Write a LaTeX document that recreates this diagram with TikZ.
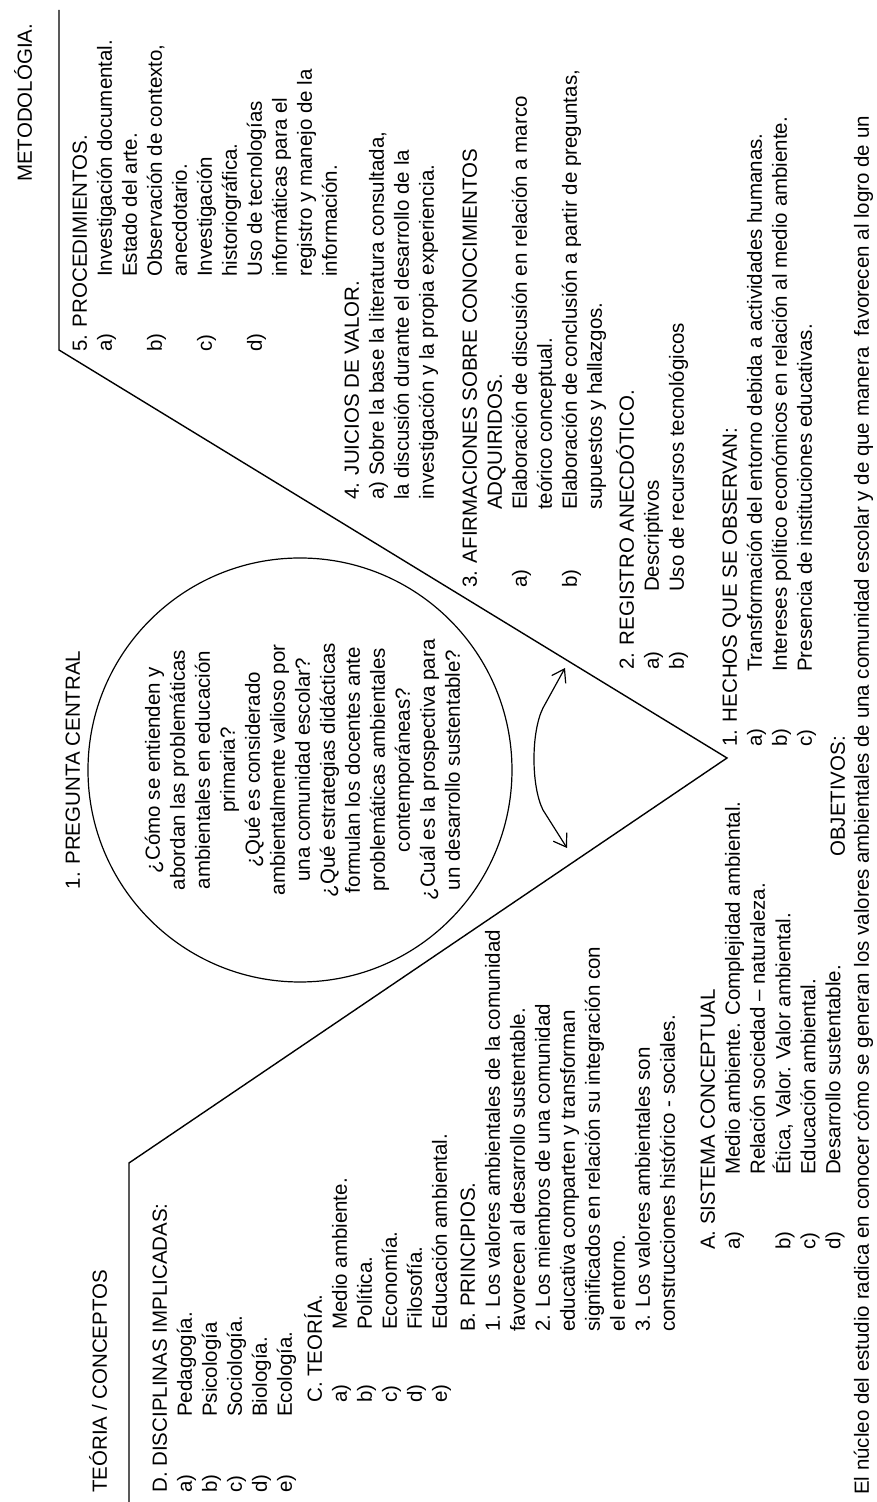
\documentclass[tikz,border=0pt]{standalone}
\usepackage{fontspec}
\setmainfont{Liberation Sans}
\usetikzlibrary{arrows.meta}
\tikzstyle{vee}=[line width=1.4pt, line join=miter]
\tikzstyle{txt}=[inner sep=0pt, anchor=base west, font=\fontsize{20.5}{25}\selectfont]
\tikzstyle{ctr}=[txt, anchor=base]
\tikzstyle{link}=[line width=1.2pt, {Straight Barb[length=12pt,width=16pt]}-{Straight Barb[length=12pt,width=16pt]}]
\newcommand{\lab}[2][75pt]{\makebox[#1][l]{#2}}

\begin{document}
\begin{tikzpicture}[x=1pt, y=1pt, rotate=90, transform shape]
  \useasboundingbox (0,0) rectangle (1502,876);
  \coordinate (rtop)  at (1492,817);
  \coordinate (rknee) at (1152,817);
  \coordinate (vtx)   at (744,149);
  \coordinate (lknee) at (339,747);
  \coordinate (lbot)  at (0,747);
  \draw[vee] (rtop) -- (rknee) -- (vtx) -- (lknee) -- (lbot);

  \node[txt] (teoria) at (9,769) {TEÓRIA / CONCEPTOS};
  \node[txt] (metodo) at (1320,844) {METODOLÓGIA.};
  \node[ctr] (titpreg) at (732,796) {1. PREGUNTA CENTRAL};
  \node[draw, circle, line width=1.2pt, minimum size=424pt] (circ) at (732,576) {};
  \node[ctr] (preg) at (732,716) {\begin{tabular}[t]{@{}c@{}}
    ¿Cómo se entienden y\\ abordan las problemáticas\\ ambientales en educación\\ primaria?\\
    ¿Qué es considerado\\ ambientalmente valioso por\\ una comunidad escolar?\\
    ¿Qué estrategias didácticas\\ formulan los docentes ante\\ problemáticas ambientales\\ contemporáneas?\\
    ¿Cuál es la prospectiva para\\ un desarrollo sustentable?
  \end{tabular}};

  \node[txt] (discip) at (9,709) {\begin{tabular}[t]{@{}l@{}}
    D. DISCIPLINAS IMPLICADAS:\\ \lab[76pt]{a)}Pedagogía.\\ \lab[76pt]{b)}Psicología\\
    \lab[76pt]{c)}Sociología.\\ \lab[76pt]{d)}Biología.\\ \lab[76pt]{e)}Ecología.
  \end{tabular}};
  \node[txt] (teo) at (99,554) {\begin{tabular}[t]{@{}l@{}}
    C. TEORÍA.\\ \lab[73pt]{a)}Medio ambiente.\\ \lab[73pt]{b)}Política.\\
    \lab[73pt]{c)}Economía.\\ \lab[73pt]{d)}Filosofía.\\ \lab[73pt]{e)}Educación ambiental.
  \end{tabular}};
  \node[txt] (princ) at (170,401) {\begin{tabular}[t]{@{}l@{}}
    B. PRINCIPIOS.\\ 1. Los valores ambientales de la comunidad\\ favorecen al desarrollo sustentable.\\
    2. Los miembros de una comunidad\\ educativa comparten y transforman\\
    significados en relación su integración con\\ el entorno.\\
    3. Los valores ambientales son\\ construcciones histórico - sociales.
  \end{tabular}};
  \node[txt] (sist) at (252,161) {\begin{tabular}[t]{@{}l@{}}
    A. SISTEMA CONCEPTUAL\\ \lab{a)}Medio ambiente. Complejidad ambiental.\\ \lab{}Relación sociedad – naturaleza.\\
    \lab{b)}Ética, Valor. Valor ambiental.\\ \lab{c)}Educación ambiental.\\ \lab{d)}Desarrollo sustentable.
  \end{tabular}};

  \node[txt] (proc) at (1150,789) {\begin{tabular}[t]{@{}l@{}}
    5. PROCEDIMIENTOS.\\ \lab{a)}Investigación documental.\\ \lab{}Estado del arte.\\
    \lab{b)}Observación de contexto,\\ \lab{}anecdotario.\\ \lab{c)}Investigación\\ \lab{}historiográfica.\\
    \lab{d)}Uso de tecnologías\\ \lab{}informáticas para el\\ \lab{}registro y manejo de la\\ \lab{}información.
  \end{tabular}};
  \node[txt] (juic) at (1002,517) {\begin{tabular}[t]{@{}l@{}}
    4. JUICIOS DE VALOR.\\ a) Sobre la base la literatura consultada,\\
    la discusión durante el desarrollo de la\\ investigación y la propia experiencia.
  \end{tabular}};
  \node[txt] (afirm) at (914,399) {\begin{tabular}[t]{@{}l@{}}
    3. AFIRMACIONES SOBRE CONOCIMIENTOS\\ \lab[78pt]{}ADQUIRIDOS.\\
    \lab[78pt]{a)}Elaboración de discusión en relación a marco\\ \lab[78pt]{}teórico conceptual.\\
    \lab[78pt]{b)}Elaboración de conclusión a partir de preguntas,\\ \lab[78pt]{}supuestos y hallazgos.
  \end{tabular}};
  \node[txt] (regis) at (832,242) {\begin{tabular}[t]{@{}l@{}}
    2. REGISTRO ANECDÓTICO.\\ \lab[78pt]{a)}Descriptivos\\ \lab[78pt]{b)}Uso de recursos tecnológicos
  \end{tabular}};
  \node[txt] (hechos) at (755,139) {\begin{tabular}[t]{@{}l@{}}
    1. HECHOS QUE SE OBSERVAN:\\ \lab{a)}Transformación del entorno debida a actividades humanas.\\
    \lab{b)}Intereses político económicos en relación al medio ambiente.\\ \lab{c)}Presencia de instituciones educativas.
  \end{tabular}};

  \node[txt] (objtit) at (645,31) {OBJETIVOS:};
  \node[txt] (objtxt) at (7,7) {El núcleo del estudio radica en conocer cómo se generan los valores ambientales de una comunidad escolar y de que manera\ \ favorecen al logro de un};

  \coordinate (arrA) at (834,311);
  \coordinate (arrA1) at (794,333);
  \coordinate (arrB1) at (692,333);
  \coordinate (arrB) at (654,309);
  \draw[link] (arrA) -- (arrA1) .. controls (770,345) and (716,345) .. (arrB1) -- (arrB);
\end{tikzpicture}
\end{document}
